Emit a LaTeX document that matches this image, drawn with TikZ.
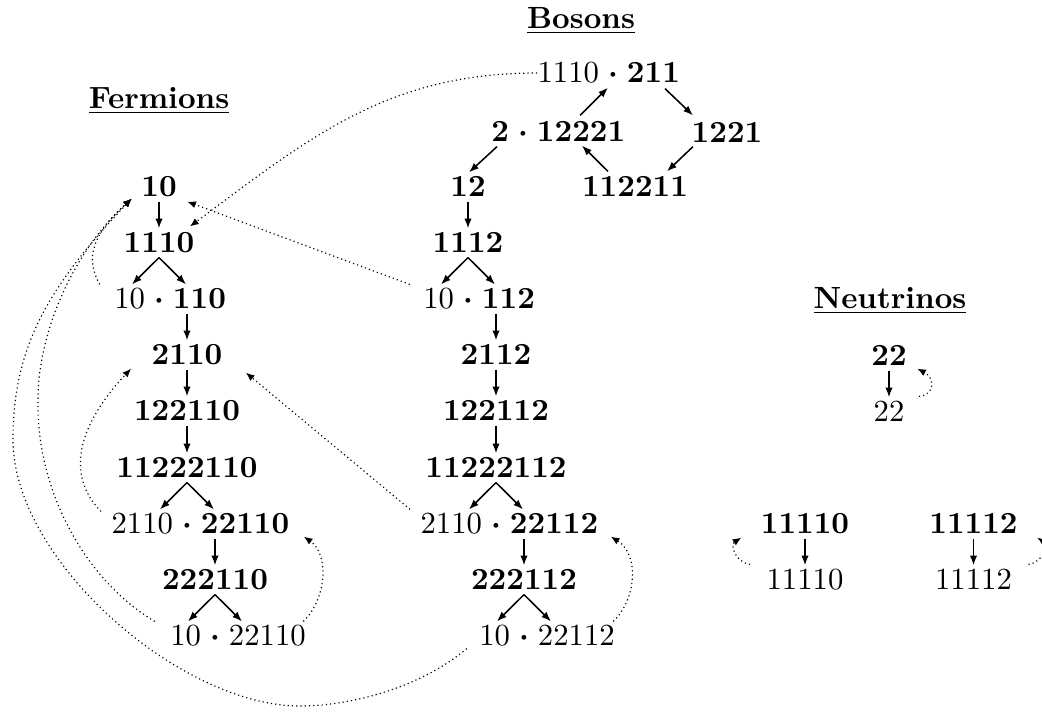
\documentclass[tikz,border=0pt]{standalone}
\usetikzlibrary{arrows.meta,calc}
\begin{document}
\begin{tikzpicture}[x=0.3257pt,y=-0.3257pt,
  lbl/.style={inner xsep=1.3pt, inner ysep=1.34pt, text height=6.44pt, text depth=0pt},
  dotn/.style={lbl, inner xsep=0pt, execute at begin node=\boldmath},
  lpart/.style={lbl, inner xsep=0pt, anchor=east},
  rpart/.style={lbl, inner xsep=0pt, anchor=west},
  arr/.style={-{Latex[length=3.2pt,width=2.4pt]}, line width=0.5pt},
  darr/.style={densely dotted, line width=0.38pt, -{Latex[length=2.8pt,width=2.3pt]}},
  ttl/.style={anchor=base, inner sep=0pt, font=\bfseries}
]
\useasboundingbox (0,0) rectangle (1042,711);

% titles
\node[ttl] (tf) at (159,108) {\underline{Fermions}};
\node[ttl] (tb) at (581,28) {\underline{Bosons}};
\node[ttl] (tn) at (890,308) {\underline{Neutrinos}};

% fermions
\node[lbl] (f0) at (159,187) {\textbf{10}};
\node[lbl] (f1) at (159,243) {\textbf{1110}};
\node[dotn] (f2) at (159,299) {${}\cdot{}$};
\node[lpart] (f2a) at (f2.west) {10};
\node[rpart] (f2b) at (f2.east) {\textbf{110}};
\node[lbl] (f3) at (187,355) {\textbf{2110}};
\node[lbl] (f4) at (187,411) {\textbf{122110}};
\node[lbl] (f5) at (187,468) {\textbf{11222110}};
\node[dotn] (f6) at (187,524) {${}\cdot{}$};
\node[lpart] (f6a) at (f6.west) {2110};
\node[rpart] (f6b) at (f6.east) {\textbf{22110}};
\node[lbl] (f7) at (215,580) {\textbf{222110}};
\node[dotn] (f8) at (215,636) {${}\cdot{}$};
\node[lpart] (f8a) at (f8.west) {10};
\node[rpart] (f8b) at (f8.east) {22110};

% bosons column
\node[lbl] (b0) at (468,187) {\textbf{12}};
\node[lbl] (b1) at (468,243) {\textbf{1112}};
\node[dotn] (b2) at (468,299) {${}\cdot{}$};
\node[lpart] (b2a) at (b2.west) {10};
\node[rpart] (b2b) at (b2.east) {\textbf{112}};
\node[lbl] (b3) at (496,355) {\textbf{2112}};
\node[lbl] (b4) at (496,411) {\textbf{122112}};
\node[lbl] (b5) at (496,468) {\textbf{11222112}};
\node[dotn] (b6) at (496,524) {${}\cdot{}$};
\node[lpart] (b6a) at (b6.west) {2110};
\node[rpart] (b6b) at (b6.east) {\textbf{22112}};
\node[lbl] (b7) at (524,580) {\textbf{222112}};
\node[dotn] (b8) at (524,636) {${}\cdot{}$};
\node[lpart] (b8a) at (b8.west) {10};
\node[rpart] (b8b) at (b8.east) {22112};

% bosons loop
\node[dotn] (bt) at (613,73) {${}\cdot{}$};
\node[lpart] (bta) at (bt.west) {1110};
\node[rpart] (btb) at (bt.east) {\textbf{211}};
\node[dotn] (bm) at (523,132) {${}\cdot{}$};
\node[lpart] (bma) at (bm.west) {\textbf{2}};
\node[rpart] (bmb) at (bm.east) {\textbf{12221}};
\node[lbl] (br) at (727,133) {\textbf{1221}};
\node[lbl] (bl) at (635,187) {\textbf{112211}};

% neutrinos
\node[lbl] (n0) at (889,356) {\textbf{22}};
\node[lbl] (n1) at (889,412) {22};
\node[lbl] (n2) at (805,524) {\textbf{11110}};
\node[lbl] (n3) at (805,580) {11110};
\node[lbl] (n4) at (973.5,524) {\textbf{11112}};
\node[lbl] (n5) at (973.5,580) {11112};

% solid arrows: fermions
\draw[arr] (f0.south) -- (f1.north);
\draw[arr] (f1.south) -- ($(f2.north)+(-27,0)$);
\draw[arr] (f1.south) -- ($(f2.north)+(27,0)$);
\draw[arr] ($(f2.south)+(28,0)$) -- (f3.north);
\draw[arr] (f3.south) -- (f4.north);
\draw[arr] (f4.south) -- (f5.north);
\draw[arr] (f5.south) -- ($(f6.north)+(-27,0)$);
\draw[arr] (f5.south) -- ($(f6.north)+(27,0)$);
\draw[arr] ($(f6.south)+(28,0)$) -- (f7.north);
\draw[arr] (f7.south) -- ($(f8.north)+(-27,0)$);
\draw[arr] (f7.south) -- ($(f8.north)+(27,0)$);

% solid arrows: bosons
\draw[arr] (b0.south) -- (b1.north);
\draw[arr] (b1.south) -- ($(b2.north)+(-27,0)$);
\draw[arr] (b1.south) -- ($(b2.north)+(27,0)$);
\draw[arr] ($(b2.south)+(28,0)$) -- (b3.north);
\draw[arr] (b3.south) -- (b4.north);
\draw[arr] (b4.south) -- (b5.north);
\draw[arr] (b5.south) -- ($(b6.north)+(-27,0)$);
\draw[arr] (b5.south) -- ($(b6.north)+(27,0)$);
\draw[arr] ($(b6.south)+(28,0)$) -- (b7.north);
\draw[arr] (b7.south) -- ($(b8.north)+(-27,0)$);
\draw[arr] (b7.south) -- ($(b8.north)+(27,0)$);

% boson loop
\draw[arr] ($(bm.south)+(-26,0)$) -- ($(b0.north)+(1,0)$);
\draw[arr] ($(bm.north)+(57,-2)$) -- ($(bt.south)+(-5,0)$);
\draw[arr] ($(bt.south)+(52,1)$) -- ($(br.north)+(-34,-3)$);
\draw[arr] ($(br.south)+(-34,-1)$) -- ($(bl.north)+(32,-1)$);
\draw[arr] ($(bl.north)+(-27,-1)$) -- ($(bm.south)+(59,-1)$);

% neutrino arrows
\draw[arr] (n0.south) -- (n1.north);
\draw[arr] (n2.south) -- (n3.north);
\draw[arr] (n4.south) -- (n5.north);

% dotted connectors
\draw[darr] (bta.west) .. controls (388,73) and (310,137) .. ($(f1.north)+(31,-2)$);
\draw[darr] ($(b2a.north west)+(-13,0)$) -- ($(f0.south east)+(6,0)$);
\draw[darr] ($(b6a.north west)+(-10,0)$) -- ($(f3.south east)+(19,3)$);
\draw[darr] ($(f8b.north east)+(-3,0)$) .. controls (326,600) and (330,555) .. ($(f6b.south east)+(14,-2)$);
\draw[darr] ($(b8b.north east)+(-2,0)$) .. controls (636,600) and (640,555) .. ($(b6b.south east)+(12,-2)$);
\draw[darr] ($(b8a.south west)+(-12,-2)$) .. controls (420,688) and (350,706) .. (300,706)
   .. controls (180,706) and (13,560) .. (13,440)
   .. controls (13,350) and (45,290) .. ($(f0.south west)+(-5,-3)$);
\draw[darr] ($(f8a.north west)+(-15,0)$) .. controls (85,580) and (36,490) .. (38,400)
   .. controls (38,330) and (75,250) .. ($(f0.south west)+(-5,-3)$);
\draw[darr] ($(f2a.north west)+(-14,0)$) .. controls (85,258) and (92,235) .. ($(f0.south west)+(-5,-3)$);
\draw[darr] ($(f6a.north west)+(-10,2)$) .. controls (65,475) and (78,425) .. ($(f3.south west)+(-16,-1)$);

% neutrino self loops
\draw[darr] ($(n1.north east)+(10,-1)$) .. controls (935,395) and (935,378) .. ($(n0.south east)+(6,-2)$);
\draw[darr] ($(n3.north west)+(-12,-1)$) .. controls (735,562) and (730,545) .. ($(n2.south west)+(-15,-1)$);
\draw[darr] ($(n5.north east)+(12,-1)$) .. controls (1043.5,562) and (1048.5,545) .. ($(n4.south east)+(15,-1)$);
\end{tikzpicture}
\end{document}
